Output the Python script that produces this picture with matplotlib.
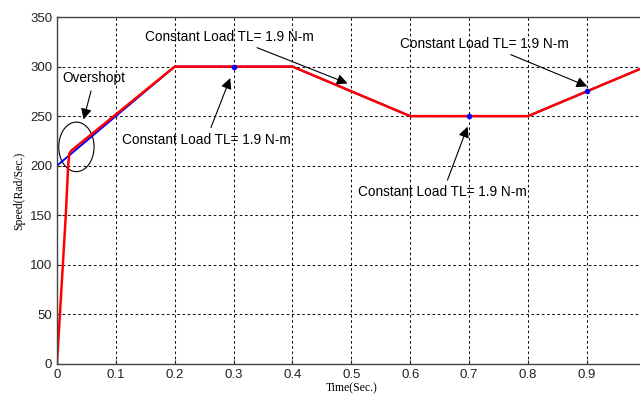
import matplotlib
matplotlib.use("Agg")
import matplotlib.pyplot as plt
from matplotlib.patches import Ellipse

# reference speed command (rad/s)
t_ref = [0.0, 0.2, 0.4, 0.6, 0.8, 1.0]
w_ref = [200, 300, 300, 250, 250, 300]

# measured rotor speed (rad/s)
t_act = [0.0, 0.005, 0.01, 0.015, 0.019, 0.021, 0.024, 0.2, 0.4, 0.6, 0.8, 1.0]
w_act = [0, 50, 100, 150, 200, 212, 215, 300, 300, 250, 250, 300]

# instants where the load torque is applied
t_load = [0.3, 0.7, 0.9]
w_load = [300, 250, 275]

load_text = "Constant Load TL= 1.9 N-m"

plt.rcParams['font.family'] = ['Liberation Sans', 'DejaVu Sans']

fig = plt.figure(figsize=(6.4, 3.96), dpi=100)
ax = fig.add_axes([0.089, 0.081, 0.920, 0.876])

ax.plot(t_ref, w_ref, color='blue', lw=1.4)
ax.plot(t_act, w_act, color='red', lw=1.8)
ax.plot(t_load, w_load, 'o', color='blue', ms=3)

ax.set_xlim(0, 1)
ax.set_ylim(0, 350)
ax.set_xticks([0, 0.1, 0.2, 0.3, 0.4, 0.5, 0.6, 0.7, 0.8, 0.9, 1.0])
# the "1" label falls outside the saved area
ax.set_xticklabels(['0', '0.1', '0.2', '0.3', '0.4', '0.5', '0.6', '0.7', '0.8', '0.9', ''])
ax.set_yticks(range(0, 351, 50))
ax.tick_params(direction='in', length=3, labelsize=9.5, colors='#222222')
ax.grid(True, color='#111111', linestyle=(0, (2.5, 2.5)), lw=0.75)
for s in ax.spines.values():
    s.set_color('#444444')
    s.set_linewidth(1.0)

ax.set_xlabel("Time(Sec.)", family='Liberation Serif', fontsize=8.5, labelpad=1)
ax.set_ylabel("Speed(Rad/Sec.)", family='Liberation Serif', fontsize=8.5, labelpad=3)

# circle around the overshoot
ax.add_patch(Ellipse((0.033, 219), 0.06, 50, fill=False, color='black', lw=0.8))

arrow = dict(arrowstyle='-|>', color='black', lw=0.8, mutation_scale=16)
fs = 9.8
ax.annotate("Overshopt", xy=(0.044, 244), xytext=(0.01, 288),
            fontsize=fs, ha='left', va='center', arrowprops=arrow)
ax.annotate(load_text, xy=(0.498, 282), xytext=(0.15, 330),
            fontsize=fs, ha='left', va='center', arrowprops=arrow)
ax.annotate(load_text, xy=(0.296, 291), xytext=(0.11, 226),
            fontsize=fs, ha='left', va='center', arrowprops=arrow)
ax.annotate(load_text, xy=(0.699, 242), xytext=(0.512, 173),
            fontsize=fs, ha='left', va='center', arrowprops=arrow)
ax.annotate(load_text, xy=(0.905, 279), xytext=(0.583, 323),
            fontsize=fs, ha='left', va='center', arrowprops=arrow)

fig.savefig("out.png", dpi=100)
